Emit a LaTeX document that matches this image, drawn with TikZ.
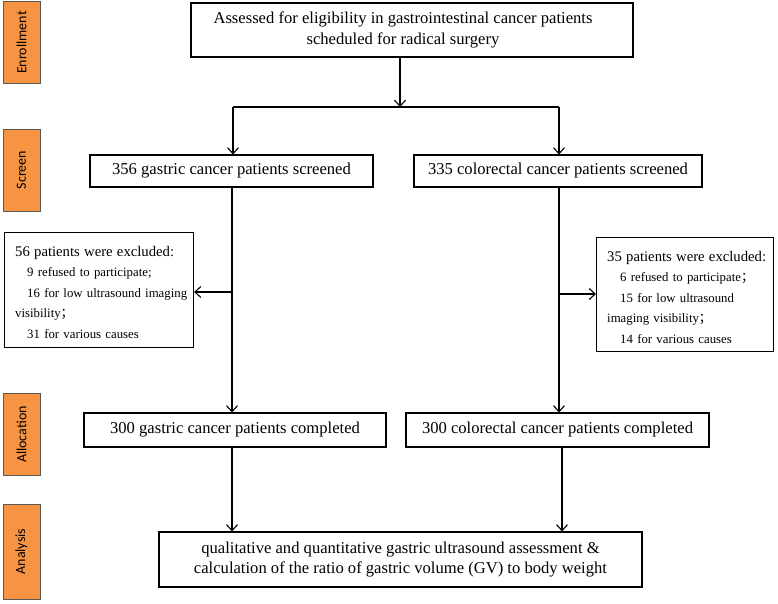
\documentclass[tikz,border=0pt]{standalone}
\usepackage{fontspec}
\setmainfont{Liberation Serif}
\newfontfamily\labfont{Carlito}
\newfontfamily\cjk{Noto Sans CJK SC}
\usetikzlibrary{arrows.meta}
\definecolor{phase}{HTML}{F79443}
\begin{document}
\begin{tikzpicture}[x=1pt,y=-1pt,
  box/.style={draw=black,line width=1.1pt,inner sep=0pt,align=center,font=\fontsize{16.6}{20.5}\selectfont},
  exframe/.style={draw=black,line width=1.1pt,inner sep=0pt,anchor=north west},
  extext/.style={inner sep=0pt,anchor=north west,align=left,text width=215pt,font=\fontsize{12.8}{20.5}\selectfont},
  phasebox/.style={draw=gray!70!black,line width=0.8pt,fill=phase,inner sep=0pt,minimum width=37pt,font=\labfont\fontsize{14}{16}\selectfont},
  conn/.style={line width=1.1pt,-{Straight Barb[length=6pt,width=11pt,line width=1.1pt]}},
  plain/.style={line width=1.1pt}]
\useasboundingbox (0,0) rectangle (778,604);
% phase labels
\node[phasebox,minimum height=82pt] (pE) at (21.5,42.5) {\rotatebox{90}{Enrollment}};
\node[phasebox,minimum height=82pt] (pS) at (21.5,170) {\rotatebox{90}{Screen}};
\node[phasebox,minimum height=82pt] (pA) at (21.5,434.5) {\rotatebox{90}{Allocation}};
\node[phasebox,minimum height=95pt] (pN) at (21.5,551.5) {\rotatebox{90}{Analysis}};
% boxes
\node[box,minimum width=442pt,minimum height=54pt] (top) at (412,30)
  {Assessed for eligibility in gastrointestinal cancer patients\hspace*{18pt}\\scheduled for radical surgery\hspace*{18pt}};
\node[box,minimum width=283pt,minimum height=32pt] (sl) at (231.5,171) {356 gastric cancer patients screened};
\node[box,minimum width=288pt,minimum height=32pt] (sr) at (558,171) {335 colorectal cancer patients screened};
% exclusion boxes
\node[exframe,minimum width=189pt,minimum height=115pt] (el) at (4,232) {};
\node[extext] (elt) at (15,246)
  {{\fontsize{14.7}{20.5}\selectfont 56 patients were excluded:}\\
   \hspace*{12pt}9 refused to participate;\\
   \hspace*{12pt}16 for low ultrasound imaging\\
   visibility{\cjk ；}\\
   \hspace*{12pt}31 for various causes};
\node[exframe,minimum width=177pt,minimum height=114pt] (er) at (596,237) {};
\node[extext] (ert) at (607,251)
  {{\fontsize{14.7}{20.5}\selectfont 35 patients were excluded:}\\
   \hspace*{13pt}6 refused to participate{\cjk ；}\\
   \hspace*{13pt}15 for low ultrasound\\
   imaging visibility{\cjk ；}\\
   \hspace*{13pt}14 for various causes};
\node[box,minimum width=302pt,minimum height=34pt] (al) at (235,430) {300 gastric cancer patients completed};
\node[box,minimum width=303pt,minimum height=34pt] (ar) at (557.5,430) {300 colorectal cancer patients completed};
\node[box,minimum width=483pt,minimum height=55pt] (an) at (400.5,559.5)
  {qualitative and quantitative gastric ultrasound assessment \&\\calculation of the ratio of gastric volume (GV) to body weight};
% junction coordinates
\coordinate (j) at (400,107);
\coordinate (jl) at (233,107);
\coordinate (jr) at (559,107);
\coordinate (bl) at (232,292);
\coordinate (br) at (559,294);
% connectors
\draw[conn] (top.south -| j) -- (j);
\draw[plain] (jl) -- (jr);
\draw[conn] (jl) -- (sl.north -| jl);
\draw[conn] (jr) -- (sr.north -| jr);
\draw[conn] (sl.south -| bl) -- (al.north -| bl);
\draw[conn] (bl) -- (el.east |- bl);
\draw[conn] (sr.south -| br) -- (ar.north -| br);
\draw[conn] (br) -- (er.west |- br);
\draw[conn] (al.south -| bl) -- (an.north -| bl);
\draw[conn] (ar.south -| 562,0) -- (an.north -| 562,0);
\end{tikzpicture}
\end{document}
